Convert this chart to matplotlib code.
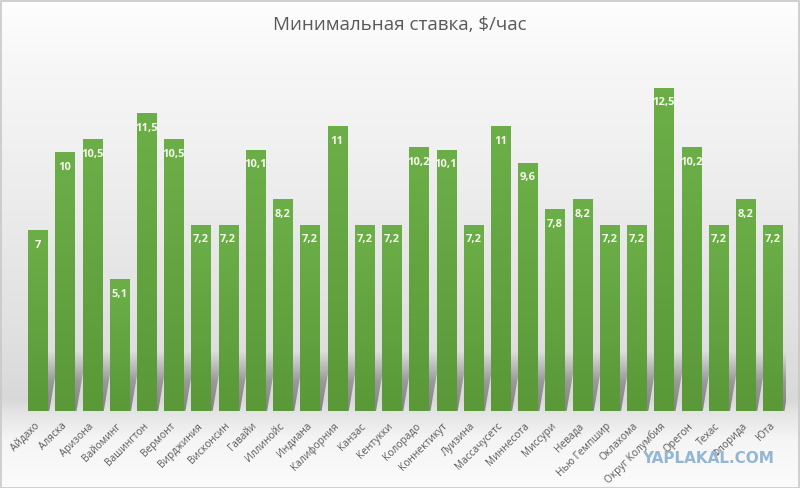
import matplotlib
matplotlib.use("Agg")
import matplotlib.pyplot as plt
import numpy as np
from matplotlib.colors import LinearSegmentedColormap
from matplotlib.patches import Polygon

# data
states = ["Айдахо", "Аляска", "Аризона", "Вайоминг", "Вашингтон", "Вермонт",
          "Вирджиния", "Висконсин", "Гавайи", "Иллинойс", "Индиана", "Калифорния",
          "Канзас", "Кентукки", "Колорадо", "Коннектикут", "Луизина", "Массачусетс",
          "Миннесота", "Миссури", "Невада", "Нью Гемпшир", "Оклахома",
          "Округ Колумбия", "Орегон", "Техас", "Флорида", "Юта"]
wages = [7, 10, 10.5, 5.1, 11.5, 10.5, 7.2, 7.2, 10.1, 8.2, 7.2, 11,
         7.2, 7.2, 10.2, 10.1, 7.2, 11, 9.6, 7.8, 8.2, 7.2, 7.2,
         12.5, 10.2, 7.2, 8.2, 7.2]
value_labels = [str(v).replace(".", ",") for v in wages]

plt.rcParams['font.family'] = ['Open Sans', 'DejaVu Sans']

fig = plt.figure(figsize=(8, 4.88), dpi=100)

# background gradient over the whole figure (top -> bottom)
bg = fig.add_axes([0, 0, 1, 1], zorder=-10)
stops = [(0.0, 0.995), (0.12, 0.97), (0.41, 0.925), (0.68, 0.88), (0.82, 0.85),
         (0.85, 0.90), (0.90, 0.96), (1.0, 0.985)]
yy = np.linspace(0, 1, 300)
shade = np.interp(yy, [s[0] for s in stops], [s[1] for s in stops])
bg.imshow(np.repeat(shade[:, None, None], 3, axis=2), aspect="auto",
          extent=[0, 1, 0, 1], origin="upper")
bg.set_xlim(0, 1)
bg.set_ylim(0, 1)
bg.axis("off")
fig.patches.append(plt.Rectangle((0.001, 0.001), 0.998, 0.997, transform=fig.transFigure,
                                 fill=False, edgecolor="#c8c8c8", linewidth=1.2))

ax = fig.add_axes([0.030, 0.158, 0.953, 0.689])
ax.patch.set_alpha(0)
x = np.arange(len(states))
width = 0.70

bars = ax.bar(x, wages, width=width, color="none", edgecolor="none", zorder=3)

green = LinearSegmentedColormap.from_list("g", ["#5a9838", "#6caf48"])
grad = np.linspace(0, 1, 100).reshape(-1, 1)
fade = LinearSegmentedColormap.from_list(
    "s", [(0.4, 0.4, 0.4, 0.0), (0.4, 0.4, 0.4, 0.55), (0.4, 0.4, 0.4, 0.75)])

for b in bars:
    x0, w, h = b.get_x(), b.get_width(), b.get_height()
    im = ax.imshow(grad, cmap=green, aspect="auto", origin="lower",
                   extent=[x0, x0 + w, 0, h], zorder=3)
    im.set_clip_path(b)
    # soft diagonal shadow behind each bar
    sh = Polygon([(x0 + 0.1, 0), (x0 + w + 0.08, 0), (x0 + w + 0.45, 2.3),
                  (x0 + 0.5, 2.3)], closed=True, facecolor="none", edgecolor="none")
    ax.add_patch(sh)
    ims = ax.imshow(grad[::-1], cmap=fade, aspect="auto", origin="lower",
                    extent=[x0, x0 + w + 0.6, 0, 2.3], zorder=2)
    ims.set_clip_path(sh)

for xi, v, lab in zip(x, wages, value_labels):
    ax.annotate(lab, (xi, v), xytext=(0, -11), textcoords="offset points",
                ha="center", va="center", color="#f4f9ea", fontsize=8,
                fontweight="bold", zorder=5)

ax.set_xlim(-0.5, len(states) - 0.5)
ax.set_ylim(0, 13)
ax.set_xticks(x)
ax.set_xticklabels(states, rotation=45, ha="right", va="center",
                   rotation_mode="anchor", fontsize=7.3, color="#595959")
ax.tick_params(axis="x", length=0, pad=10)
ax.set_yticks([])
for s in ax.spines.values():
    s.set_visible(False)

fig.text(0.5, 0.949, "Минимальная ставка, $/час", ha="center", va="center",
         fontsize=13.5, color="#595959")
fig.text(0.885, 0.061, "YAPLAKAL.COM", ha="center", va="center",
         fontsize=11, fontweight="bold", color="#93b7d3", family="DejaVu Sans")

fig.savefig("out.png", dpi=100)
